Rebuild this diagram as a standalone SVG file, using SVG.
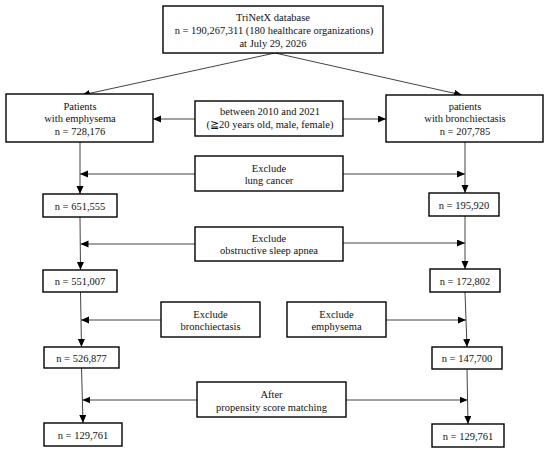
<svg xmlns="http://www.w3.org/2000/svg" width="550" height="452" viewBox="0 0 550 452">
<defs>
<marker id="ah" markerUnits="userSpaceOnUse" markerWidth="8" markerHeight="8" refX="8" refY="3.5" orient="auto">
<path d="M0,0 L8,3.5 L0,7 z" fill="#000"/>
</marker>
<style>
.box{fill:#fff;stroke:#000;stroke-width:1.4}
.t{font-family:"Liberation Serif","Times New Roman",serif;font-size:10.5px;fill:#111;text-anchor:middle}
.c{stroke:#444;stroke-width:1;fill:none;marker-end:url(#ah)}
</style>
</defs>
<rect width="550" height="452" fill="#fff"/>
<g id="connectors">
<line class="c" x1="275" y1="53" x2="82" y2="95"/>
<line class="c" x1="275" y1="53" x2="462" y2="95"/>
<line class="c" x1="195" y1="119" x2="153" y2="119"/>
<line class="c" x1="343" y1="119" x2="386" y2="119"/>
<line class="c" x1="80" y1="142" x2="80" y2="194"/>
<line class="c" x1="465" y1="142" x2="465" y2="193"/>
<line class="c" x1="195" y1="174" x2="80" y2="174"/>
<line class="c" x1="343" y1="174" x2="465" y2="174"/>
<line class="c" x1="80" y1="217" x2="80.5" y2="270"/>
<line class="c" x1="465" y1="216" x2="465" y2="269"/>
<line class="c" x1="195" y1="244" x2="80.5" y2="244"/>
<line class="c" x1="343" y1="243" x2="465" y2="243"/>
<line class="c" x1="80.5" y1="292" x2="81.5" y2="347"/>
<line class="c" x1="465" y1="292" x2="467" y2="347"/>
<line class="c" x1="161" y1="320" x2="81" y2="320"/>
<line class="c" x1="386" y1="320" x2="466" y2="320"/>
<line class="c" x1="81.5" y1="368" x2="83" y2="423"/>
<line class="c" x1="467" y1="369" x2="468" y2="424"/>
<line class="c" x1="197" y1="400" x2="82.3" y2="400"/>
<line class="c" x1="346" y1="400" x2="467.5" y2="400"/>
</g>
<g id="n_top">
<rect class="box" x="163" y="6" width="220" height="47"/>
<text class="t" x="273" y="21">TriNetX database</text>
<text class="t" x="274" y="34">n = 190,267,311 (180 healthcare organizations)</text>
<text class="t" x="273" y="46.5">at July 29, 2026</text>
</g>
<g id="n_emph">
<rect class="box" x="6" y="94" width="147" height="48"/>
<text class="t" x="80" y="109.5">Patients</text>
<text class="t" x="80" y="122">with emphysema</text>
<text class="t" x="80" y="135">n = 728,176</text>
</g>
<g id="n_crit">
<rect class="box" x="195" y="101" width="148" height="35"/>
<text class="t" x="270" y="115">between 2010 and 2021</text>
<text class="t" x="270" y="128">(≧20 years old, male, female)</text>
</g>
<g id="n_bron">
<rect class="box" x="386" y="95" width="157" height="47"/>
<text class="t" x="465" y="109.5">patients</text>
<text class="t" x="465" y="122">with bronchiectasis</text>
<text class="t" x="465" y="135">n = 207,785</text>
</g>
<g id="n_ex_lung">
<rect class="box" x="195" y="156" width="148" height="35"/>
<text class="t" x="269" y="171.5">Exclude</text>
<text class="t" x="269" y="184">lung cancer</text>
</g>
<g id="n_l1">
<rect class="box" x="43" y="194" width="74" height="23"/>
<text class="t" x="80" y="209.5">n = 651,555</text>
</g>
<g id="n_r1">
<rect class="box" x="429" y="193" width="70" height="23"/>
<text class="t" x="464" y="208.5">n = 195,920</text>
</g>
<g id="n_ex_osa">
<rect class="box" x="195" y="227" width="148" height="34"/>
<text class="t" x="269" y="241.5">Exclude</text>
<text class="t" x="269" y="254">obstructive sleep apnea</text>
</g>
<g id="n_l2">
<rect class="box" x="43" y="270" width="74" height="22"/>
<text class="t" x="80" y="285">n = 551,007</text>
</g>
<g id="n_r2">
<rect class="box" x="430" y="269" width="70" height="23"/>
<text class="t" x="465" y="284.5">n = 172,802</text>
</g>
<g id="n_ex_bron">
<rect class="box" x="161" y="302" width="99" height="35"/>
<text class="t" x="210.5" y="318">Exclude</text>
<text class="t" x="210.5" y="330">bronchiectasis</text>
</g>
<g id="n_ex_emph">
<rect class="box" x="287" y="302" width="99" height="35"/>
<text class="t" x="336.5" y="318">Exclude</text>
<text class="t" x="336.5" y="330">emphysema</text>
</g>
<g id="n_l3">
<rect class="box" x="44" y="347" width="75" height="21"/>
<text class="t" x="81.5" y="361.5">n = 526,877</text>
</g>
<g id="n_r3">
<rect class="box" x="432" y="347" width="70" height="22"/>
<text class="t" x="467" y="362">n = 147,700</text>
</g>
<g id="n_psm">
<rect class="box" x="197" y="382" width="149" height="35"/>
<text class="t" x="271.5" y="398">After</text>
<text class="t" x="271.5" y="410.5">propensity score matching</text>
</g>
<g id="n_l4">
<rect class="box" x="44" y="423" width="78" height="23"/>
<text class="t" x="83" y="438.5">n = 129,761</text>
</g>
<g id="n_r4">
<rect class="box" x="432" y="424" width="72" height="23"/>
<text class="t" x="468" y="439.5">n = 129,761</text>
</g>
</svg>
